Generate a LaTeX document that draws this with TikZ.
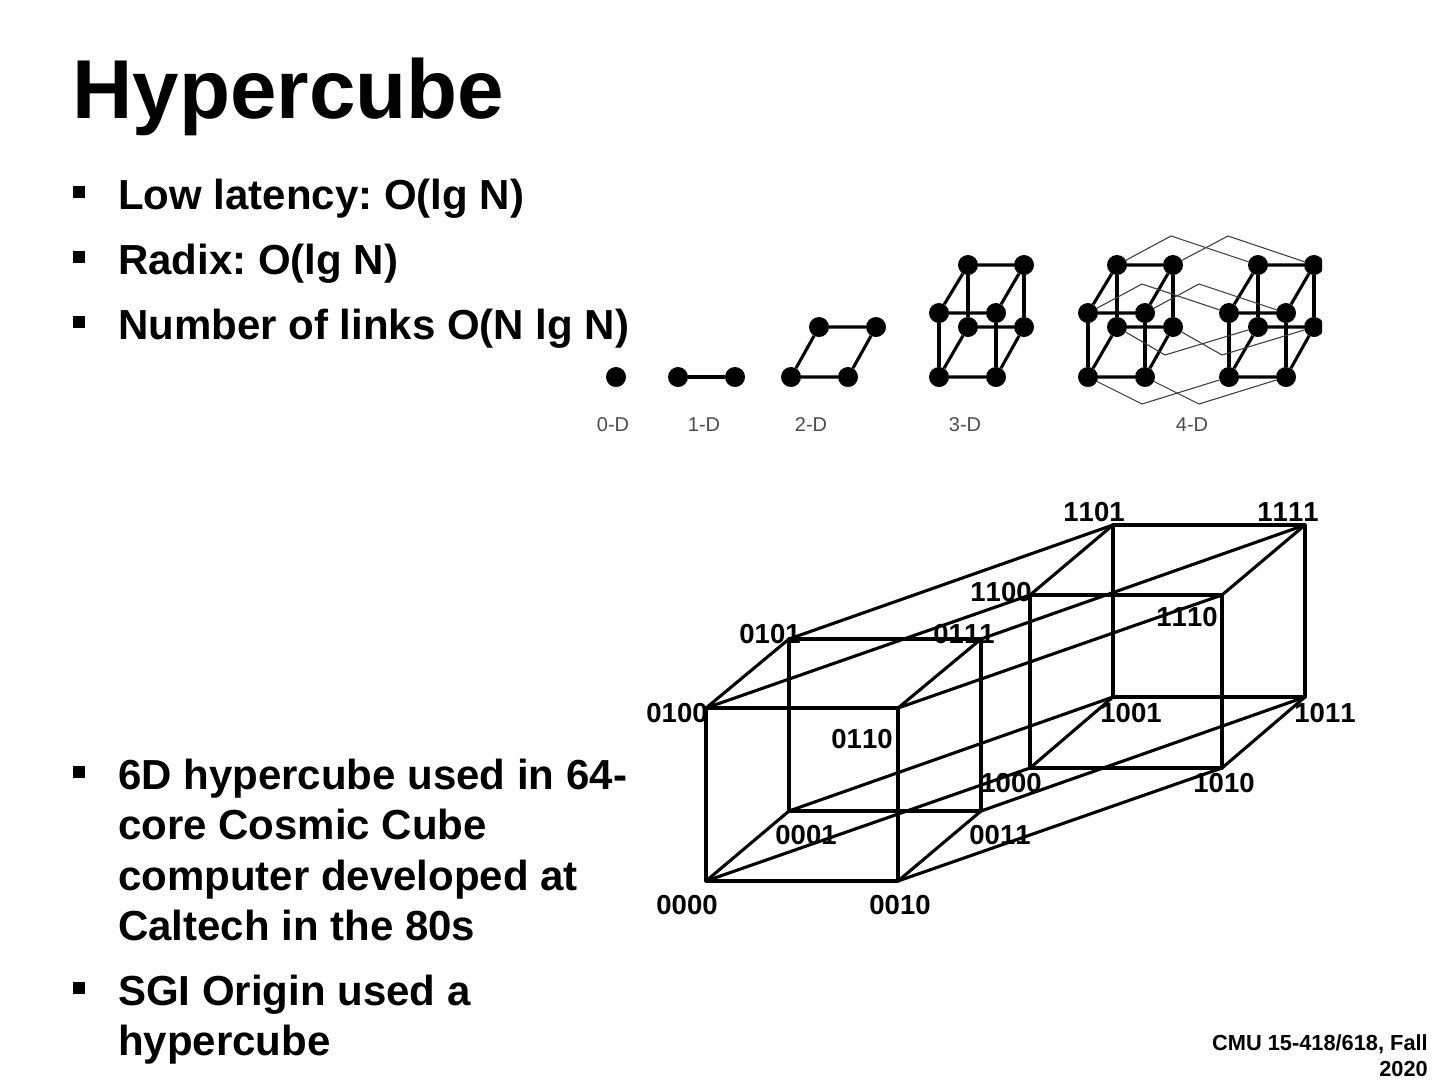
\documentclass[tikz,border=0pt]{standalone}
\usepackage{fontspec}
\setmainfont{Liberation Sans}
\newfontfamily\labelfont[Kerning=Off]{Liberation Sans}
\begin{document}
\frenchspacing
\begin{tikzpicture}[
  x=1pt,y=-1pt,
  title/.style={anchor=base west,inner sep=0pt,font=\fontsize{83.6}{90}\bfseries\selectfont},
  bullettext/.style={anchor=north west,inner sep=0pt,align=left,font=\fontsize{42}{50.5}\bfseries\selectfont},
  bulletmark/.style={rectangle,fill=black,inner sep=0pt,minimum size=11.5pt},
  dot/.style={circle,fill=black,inner sep=0pt,minimum size=20pt},
  link/.style={line width=3.1pt},
  wrap/.style={line width=1.1pt,black!75},
  dimlabel/.style={inner sep=0pt,text=black!70,font=\fontsize{20}{22}\selectfont},
  vertex/.style={inner sep=0pt,font=\labelfont\fontsize{27.5}{30}\bfseries\selectfont},
  footer/.style={anchor=north east,inner sep=0pt,align=right,font=\fontsize{21.8}{26}\bfseries\selectfont}
]
\useasboundingbox (0,0) rectangle (1440,1080);

% title and bullets
\node[title] (head) at (72,118) {Hypercube};
\node[bulletmark] (b1) at (79,192) {};
\node[bulletmark] (b2) at (79,257) {};
\node[bulletmark] (b3) at (79,322) {};
\node[bulletmark] (b4) at (79,772) {};
\node[bulletmark] (b5) at (79,988) {};
\node[bullettext] (t1) at (118,179) {Low latency: O(lg N)};
\node[bullettext] (t2) at (118,244) {Radix: O(lg N)};
\node[bullettext] (t3) at (118,309) {Number of links O(N lg N)};
\node[bullettext] (t4) at (118,758.5) {6D hypercube used in 64-\\core Cosmic Cube\\computer developed at\\Caltech in the 80s};
\node[bullettext] (t5) at (118,974.5) {SGI Origin used a\\hypercube};

% small cubes
\node[dot] (z) at (616,377) {};
\node[dot] (a0) at (678,377) {};
\node[dot] (a1) at (735,377) {};
\draw[link] (a0) -- (a1);
\node[dot] (s0) at (791,377) {};
\node[dot] (s1) at (848,377) {};
\node[dot] (s2) at (819,327) {};
\node[dot] (s3) at (876,327) {};
\draw[link] (s0) -- (s1) -- (s3) -- (s2) -- (s0);

\begin{scope}
\clip (580,220) rectangle (1322,440);
\foreach \p/\dx in {c/0,l/149,r/290}{
  \node[dot] (\p0) at (939+\dx,377) {};
  \node[dot] (\p1) at (996+\dx,377) {};
  \node[dot] (\p2) at (968+\dx,327) {};
  \node[dot] (\p3) at (1024+\dx,327) {};
  \node[dot] (\p4) at (939+\dx,313) {};
  \node[dot] (\p5) at (996+\dx,313) {};
  \node[dot] (\p6) at (968+\dx,265) {};
  \node[dot] (\p7) at (1024+\dx,265) {};
  \draw[link] (\p0) -- (\p1) -- (\p3) -- (\p2) -- (\p0);
  \draw[link] (\p4) -- (\p5) -- (\p7) -- (\p6) -- (\p4);
  \draw[link] (\p0) -- (\p4);
  \draw[link] (\p1) -- (\p5);
  \draw[link] (\p2) -- (\p6);
  \draw[link] (\p3) -- (\p7);
}
\coordinate (w0) at (1142,404);
\coordinate (w1) at (1199,404);
\coordinate (w2) at (1165,355);
\coordinate (w3) at (1222,355);
\coordinate (w4) at (1142,284);
\coordinate (w5) at (1199,284);
\coordinate (w6) at (1171,236);
\coordinate (w7) at (1228,236);
\foreach \i in {0,...,7}{
  \draw[wrap] (l\i) -- (w\i) -- (r\i);
}
\end{scope}

\node[dimlabel] (d0) at (613,425) {0-D};
\node[dimlabel] (d1) at (704,425) {1-D};
\node[dimlabel] (d2) at (811,425) {2-D};
\node[dimlabel] (d3) at (965,425) {3-D};
\node[dimlabel] (d4) at (1192,425) {4-D};

% large cube
\foreach \n/\x/\y in {0000/706/881,0010/898/881,0100/706/708,0110/898/708,
                      0001/789/811,0011/981/811,0101/789/639,0111/981/639,
                      1000/1030/768,1010/1222/768,1100/1030/595,1110/1222/595,
                      1001/1113/697,1011/1305/697,1101/1113/525,1111/1305/525}{
  \coordinate (v\n) at (\x,\y);
}
\foreach \p in {0,1}{
  \draw[link,line join=round] (v\p000) -- (v\p010) -- (v\p110) -- (v\p100) -- cycle;
  \draw[link,line join=round] (v\p001) -- (v\p011) -- (v\p111) -- (v\p101) -- cycle;
  \draw[link] (v\p000) -- (v\p001);
  \draw[link] (v\p010) -- (v\p011);
  \draw[link] (v\p100) -- (v\p101);
  \draw[link] (v\p110) -- (v\p111);
}
\foreach \n in {000,001,010,011,100,101,110,111}{
  \draw[link] (v0\n) -- (v1\n);
}
\foreach \n/\x/\y in {1101/1094/512,1111/1288/512,1100/1001/592,1110/1187/617,
                      0101/770/634,0111/964/634,0100/677/713,0110/862/739,
                      1001/1131/713,1011/1325/713,1000/1011/783,1010/1224/783,
                      0001/806/835,0011/1000/835,0000/687/905,0010/900/905}{
  \node[vertex] (n\n) at (\x,\y) {\n};
}

\node[footer] (foot) at (1428,1034) {CMU 15-418/618, Fall\\2020};
\end{tikzpicture}
\end{document}
